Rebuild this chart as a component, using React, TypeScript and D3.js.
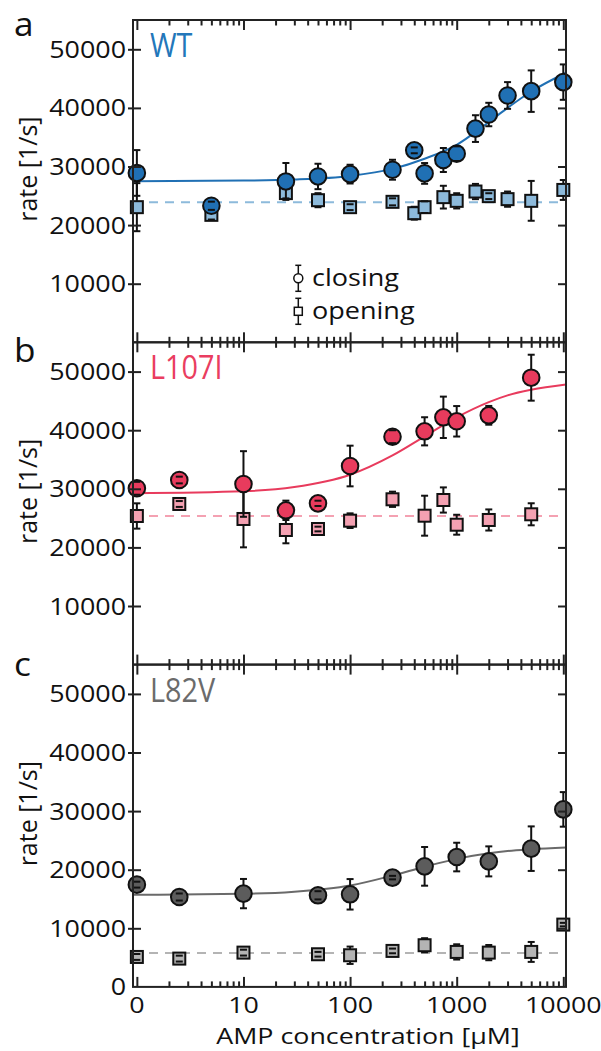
import React, { useEffect, useRef } from "react";
import * as d3 from "d3";

// AMP concentration [µM]; 0 is drawn at the position of 1 on the log axis
const concWT = [0, 5, 25, 50, 100, 250, 400, 500, 750, 1000, 1500, 2000, 3000, 5000, 10000];
const closingWT = [28900, 23300, 27450, 28300, 28700, 29450, 32760, 28820, 31110, 32190, 36470, 38870, 42120, 42860, 44400];
const closingErrWT = [3900, 700, 3150, 2170, 1600, 1700, 500, 1770, 2050, 1250, 2280, 2000, 2280, 3540, 3020];
const openingWT = [23060, 21750, 25460, 24250, 23060, 23970, 22030, 23060, 24770, 24140, 25730, 24940, 24430, 24140, 26000];
const openingErrWT = [4100, 800, 900, 1200, 500, 600, 1100, 1000, 1940, 1300, 1300, 500, 1300, 3400, 1700];

const concL107I = [0, 2.5, 10, 25, 50, 100, 250, 500, 750, 1000, 2000, 5000];
const closingL107I = [30090, 31500, 30820, 26330, 27520, 33890, 38890, 39810, 42200, 41520, 42540, 48960];
const closingErrL107I = [1100, 570, 5600, 1650, 450, 3470, 1100, 2400, 3530, 2600, 1600, 3920];
const openingL107I = [25360, 27410, 24850, 22970, 23140, 24560, 28210, 25410, 28090, 23870, 24680, 25650];
const openingErrL107I = [2160, 500, 4840, 2270, 400, 1250, 1300, 3410, 2150, 1700, 1800, 1880];

const concL82V = [0, 2.5, 10, 50, 100, 250, 500, 1000, 2000, 5000, 10000];
const closingL82V = [17450, 15340, 15920, 15630, 15800, 18650, 20570, 22160, 21420, 23590, 30290];
const closingErrL82V = [500, 600, 2500, 700, 2600, 300, 3300, 2440, 2560, 3800, 2950];
const openingL82V = [5110, 4830, 5850, 5570, 5400, 6140, 7110, 5970, 5850, 5970, 10630];
const openingErrL82V = [500, 500, 500, 400, 1480, 400, 1200, 1300, 1300, 1700, 300];

// fitted curves
const fitConc = [0.92, 10, 30, 100, 250, 500, 1000, 2000, 3000, 5000, 10600];
const fitWT = [27500, 27590, 27770, 28390, 29590, 31330, 33700, 37600, 40000, 42800, 46000];
const fitL107I = [29240, 29580, 30300, 32400, 35700, 38950, 42200, 44800, 45950, 46900, 47800];
const fitL82V = [15720, 15880, 16250, 17300, 19000, 20500, 21850, 22800, 23200, 23500, 23800];
const flatWT = 23900;
const flatL107I = 25360;
const flatL82V = 5800;

const yTicks = [10000, 20000, 30000, 40000, 50000];
const xMajor = [1, 10, 100, 1000, 10000];
const xTickLabels = ["0", "10", "100", "1000", "10000"];
const panelLetters = ["a", "b", "c"];
const panelNames = ["WT", "L107I", "L82V"];
const legendLabels = ["closing", "opening"];

const SX = 1.12; // lettering is a little wide in the figure
const INK = "#222";

function label(sel: any, txt: string, x: number, y: number, size: number, anchor: string, color = "#111", sx = SX) {
  return sel.append("text")
    .attr("transform", `translate(${x},${y}) scale(${sx},1)`)
    .attr("text-anchor", anchor)
    .attr("font-size", size)
    .attr("fill", color)
    .text(txt);
}

function series(g: any, x: (c: number) => number, y: any, conc: number[], vals: number[], errs: number[], shape: string, fill: string) {
  conc.forEach((c, k) => {
    const cx = x(c), cy = y(vals[k]);
    const y1 = y(vals[k] + errs[k]), y2 = y(vals[k] - errs[k]);
    g.append("line").attr("x1", cx).attr("x2", cx).attr("y1", y1).attr("y2", y2)
      .attr("stroke", "#111").attr("stroke-width", 2);
    if (shape === "circle") {
      g.append("circle").attr("cx", cx).attr("cy", cy).attr("r", 8.3)
        .attr("fill", fill).attr("stroke", "#111").attr("stroke-width", 2);
    } else {
      g.append("rect").attr("x", cx - 6).attr("y", cy - 6).attr("width", 12).attr("height", 12)
        .attr("fill", fill).attr("stroke", "#111").attr("stroke-width", 2);
    }
    [y1, y2].forEach((yy) => {
      g.append("line").attr("x1", cx - 3.5).attr("x2", cx + 3.5).attr("y1", yy).attr("y2", yy)
        .attr("stroke", "#111").attr("stroke-width", 2);
    });
  });
}

export default function App() {
  const ref = useRef<SVGSVGElement>(null);

  useEffect(() => {
    const svg = d3.select(ref.current);
    svg.selectAll("*").remove();

    const left = 133, right = 566, top0 = 20, ph = 322.3;
    const x = d3.scaleLog().domain([0.92, 10600]).range([left, right]);
    const px = (c: number) => x(c === 0 ? 1 : c);
    const minor = x.ticks().filter((t) => !xMajor.includes(t));

    const panels = [
      { conc: concWT, cl: closingWT, clE: closingErrWT, op: openingWT, opE: openingErrWT, fit: fitWT, flat: flatWT,
        dark: "#2070b4", light: "#8dbadb", text: "#2377ba", line: "#2070b4", dash: "#8dbadb" },
      { conc: concL107I, cl: closingL107I, clE: closingErrL107I, op: openingL107I, opE: openingErrL107I, fit: fitL107I, flat: flatL107I,
        dark: "#e83b5d", light: "#f4a1b2", text: "#ea3d60", line: "#e83b5d", dash: "#f4a1b2" },
      { conc: concL82V, cl: closingL82V, clE: closingErrL82V, op: openingL82V, opE: openingErrL82V, fit: fitL82V, flat: flatL82V,
        dark: "#5c5c5c", light: "#b4b4b4", text: "#6b6b6b", line: "#6a6a6a", dash: "#b4b4b4" },
    ];
    const letterDy = [16, 20, 11];

    panels.forEach((p, i) => {
      const top = top0 + i * ph, bottom = top + ph;
      const y = d3.scaleLinear().domain([0, 55000]).range([bottom, top]);
      const g = svg.append("g");

      // opening: flat dashed line
      g.append("line").attr("x1", left).attr("x2", right).attr("y1", y(p.flat)).attr("y2", y(p.flat))
        .attr("stroke", p.dash).attr("stroke-width", 2).attr("stroke-dasharray", "9,7");

      // closing: fitted curve
      const line = d3.line<number>().x((_, k) => x(fitConc[k])).y((d) => y(d)).curve(d3.curveMonotoneX);
      g.append("path").attr("d", line(p.fit)).attr("fill", "none").attr("stroke", p.line).attr("stroke-width", 2);

      series(g, px, y, p.conc, p.op, p.opE, "square", p.light);
      series(g, px, y, p.conc, p.cl, p.clE, "circle", p.dark);

      // x ticks top & bottom, pointing inward
      const tk = (gen: any, vals: number[], len: number, ty: number) =>
        g.append("g").attr("transform", `translate(0,${ty})`).attr("color", INK)
          .call(gen(x).tickValues(vals).tickSize(len).tickSizeOuter(0).tickFormat(() => ""))
          .call((s: any) => s.select(".domain").remove())
          .call((s: any) => s.selectAll("line").attr("stroke-width", 2));
      tk(d3.axisBottom, xMajor, 10, top);
      tk(d3.axisBottom, minor, 5.5, top);
      tk(d3.axisTop, xMajor, 10, bottom);
      tk(d3.axisTop, minor, 5.5, bottom);

      // y ticks
      g.append("g").attr("transform", `translate(${left - 5},0)`).attr("color", INK)
        .call(d3.axisRight(y).tickValues(yTicks).tickSize(13).tickSizeOuter(0).tickFormat(() => ""))
        .call((s: any) => s.select(".domain").remove())
        .call((s: any) => s.selectAll("line").attr("stroke-width", 2));
      g.append("g").attr("transform", `translate(${right},0)`).attr("color", INK)
        .call(d3.axisLeft(y).tickValues(yTicks).tickSize(8).tickSizeOuter(0).tickFormat(() => ""))
        .call((s: any) => s.select(".domain").remove())
        .call((s: any) => s.selectAll("line").attr("stroke-width", 2));

      // frame
      g.append("rect").attr("x", left).attr("y", top).attr("width", right - left).attr("height", ph)
        .attr("fill", "none").attr("stroke", INK).attr("stroke-width", 2);

      // y tick labels
      const yl = i === 2 ? [0, ...yTicks] : yTicks;
      yl.forEach((v) => label(g, String(v), 126, y(v) + 8.5, 24, "end"));

      // axis title
      g.append("text")
        .attr("transform", `translate(37,${(top + bottom) / 2 - 12}) rotate(-90) scale(1,1.05)`)
        .attr("text-anchor", "middle").attr("font-size", 25).attr("fill", "#111")
        .text("rate [1/s]");

      // panel letter and name
      label(g, panelLetters[i], 14, top + letterDy[i], 32, "start", "#111", 1.1);
      label(g, panelNames[i], 150, top + 37, 32, "start", p.text, 0.9);

      if (i === 0) {
        // legend
        const lx = 298.3;
        const ly = [top + 258.3, top + 291.3];
        legendLabels.forEach((t, k) => {
          const cy = ly[k];
          g.append("line").attr("x1", lx).attr("x2", lx).attr("y1", cy - 13).attr("y2", cy + 13)
            .attr("stroke", "#111").attr("stroke-width", 1.5);
          [cy - 13, cy + 13].forEach((yy) =>
            g.append("line").attr("x1", lx - 3).attr("x2", lx + 3).attr("y1", yy).attr("y2", yy)
              .attr("stroke", "#111").attr("stroke-width", 1.5));
          if (k === 0) {
            g.append("circle").attr("cx", lx).attr("cy", cy).attr("r", 4.5)
              .attr("fill", "#fff").attr("stroke", "#111").attr("stroke-width", 1.5);
          } else {
            g.append("rect").attr("x", lx - 4).attr("y", cy - 4).attr("width", 8).attr("height", 8)
              .attr("fill", "#fff").attr("stroke", "#111").attr("stroke-width", 1.5);
          }
          label(g, t, 312, cy + 7.5, 23.5, "start", "#111", 1.15);
        });
      }

      if (i === 2) {
        xMajor.forEach((v, k) => label(g, xTickLabels[k], x(v), bottom + 26, 22, "middle", "#111", 1.22));
        label(g, "AMP concentration [\u03bcM]", 368, bottom + 57, 22, "middle", "#111", 1.22);
      }
    });
  }, []);

  return (
    <svg ref={ref} width={601} height={1051}
      style={{ position: "absolute", left: 0, top: 0, background: "#fff", fontFamily: "'Open Sans', sans-serif" }} />
  );
}
